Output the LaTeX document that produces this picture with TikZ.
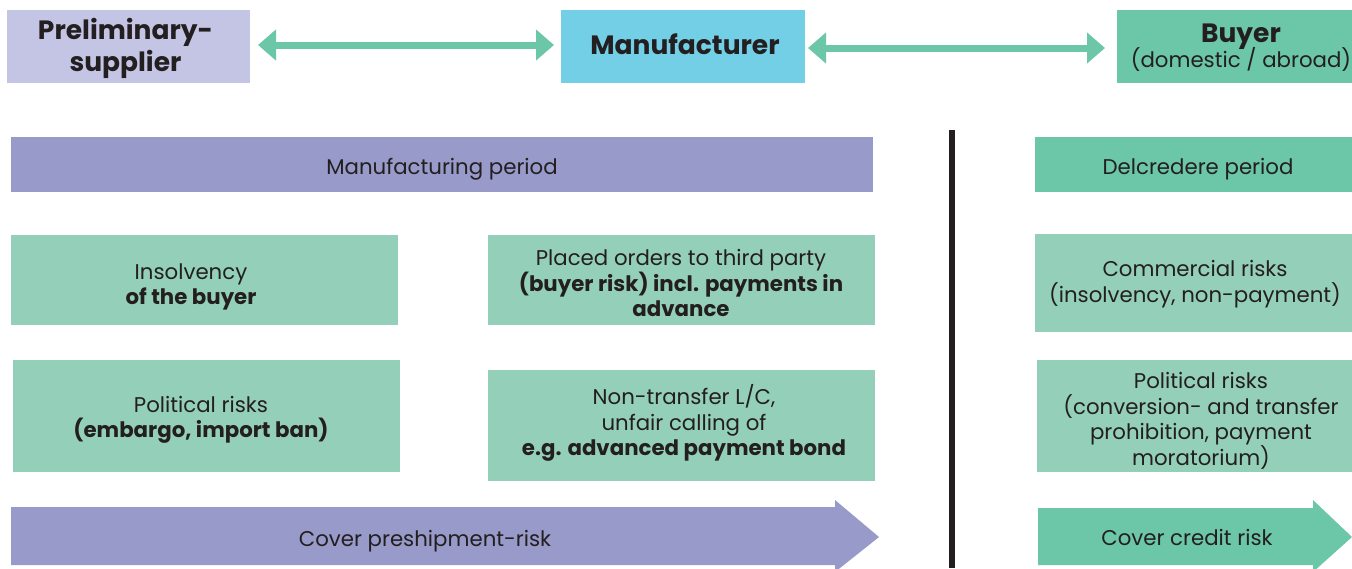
\documentclass[tikz,border=0pt]{standalone}
\usepackage{fontspec}
\setmainfont{Poppins}
\usetikzlibrary{arrows.meta,shapes.arrows}
\definecolor{lav}{HTML}{C4C4E4}
\definecolor{sky}{HTML}{72CFE6}
\definecolor{grn}{HTML}{6CC6A8}
\definecolor{lgrn}{HTML}{94D0B9}
\definecolor{purp}{HTML}{989ACA}
\definecolor{txt}{HTML}{231F20}
\begin{document}
\begin{tikzpicture}[x=1pt,y=-1pt,
  box/.style={inner sep=0pt,align=center,text=txt,font=\fontsize{21.3}{25.5}\selectfont},
  head/.style={inner sep=0pt,align=center,text=txt,font=\fontsize{26.5}{32}\selectfont\bfseries},
  link/.style={draw=grn,line width=7pt,{Triangle[width=30pt,length=18pt]}-{Triangle[width=30pt,length=18pt]},shorten <=0pt,shorten >=0pt}]
\useasboundingbox (0,0) rectangle (1352,568);
% top row
\fill[lav] (7,10) rectangle (250,83);
\node[head] (pre) at (125.5,48.5) {Preliminary-\\supplier};
\fill[sky] (561,10) rectangle (805,83);
\node[head] (man) at (685,44) {Manufacturer};
\fill[grn] (1117,10) rectangle (1352,83);
\node[box] (buy) at (1241,48) {{\fontsize{26.5}{28}\selectfont\bfseries Buyer}\\[-3pt](domestic / abroad)};
\coordinate (a1) at (258,45); \coordinate (b1) at (554,45);
\coordinate (a2) at (808,48); \coordinate (b2) at (1105,48);
\draw[link] (a1) -- (b1);
\draw[link] (a2) -- (b2);
% period bars
\fill[purp] (11,137) rectangle (873,192);
\node[box] (mp) at (442,169) {Manufacturing period};
\fill[grn] (1035,137) rectangle (1352,192);
\node[box] (dp) at (1198,169) {Delcredere period};
% divider
\coordinate (v1) at (952,130); \coordinate (v2) at (952,568);
\draw[txt,line width=6pt] (v1) -- (v2);
% risk boxes
\fill[lgrn] (11,235) rectangle (398,325);
\node[box] (ins) at (191,287) {Insolvency\\\textbf{of the buyer}};
\fill[lgrn] (488,235) rectangle (875,325);
\node[box] (plc) at (681,283) {Placed orders to third party\\\textbf{(buyer risk) incl. payments in}\\\textbf{advance}};
\fill[lgrn] (1035,234) rectangle (1352,332);
\node[box] (com) at (1195,284) {Commercial risks\\(insolvency, non-payment)};
\fill[lgrn] (13,360) rectangle (400,472);
\node[box] (pol) at (201,420) {Political risks\\\textbf{(embargo, import ban)}};
\fill[lgrn] (488,370) rectangle (875,481);
\node[box] (ntr) at (684,423) {Non-transfer L/C,\\unfair calling of\\\textbf{e.g. advanced payment bond}};
\fill[lgrn] (1037,360) rectangle (1352,472);
\node[box] (pr2) at (1201,421) {Political risks\\(conversion- and transfer\\prohibition, payment\\moratorium)};
% cover arrows
\fill[purp] (11,507) -- (835,507) -- (835,500) -- (879,537) -- (835,572) -- (835,565) -- (11,565) -- cycle;
\node[box] (cp) at (425,541) {Cover preshipment-risk};
\fill[grn] (1038,508) -- (1313,508) -- (1313,500) -- (1352,537) -- (1313,572) -- (1313,565) -- (1038,565) -- cycle;
\node[box] (cc) at (1187,537) {Cover credit risk};
\end{tikzpicture}
\end{document}
